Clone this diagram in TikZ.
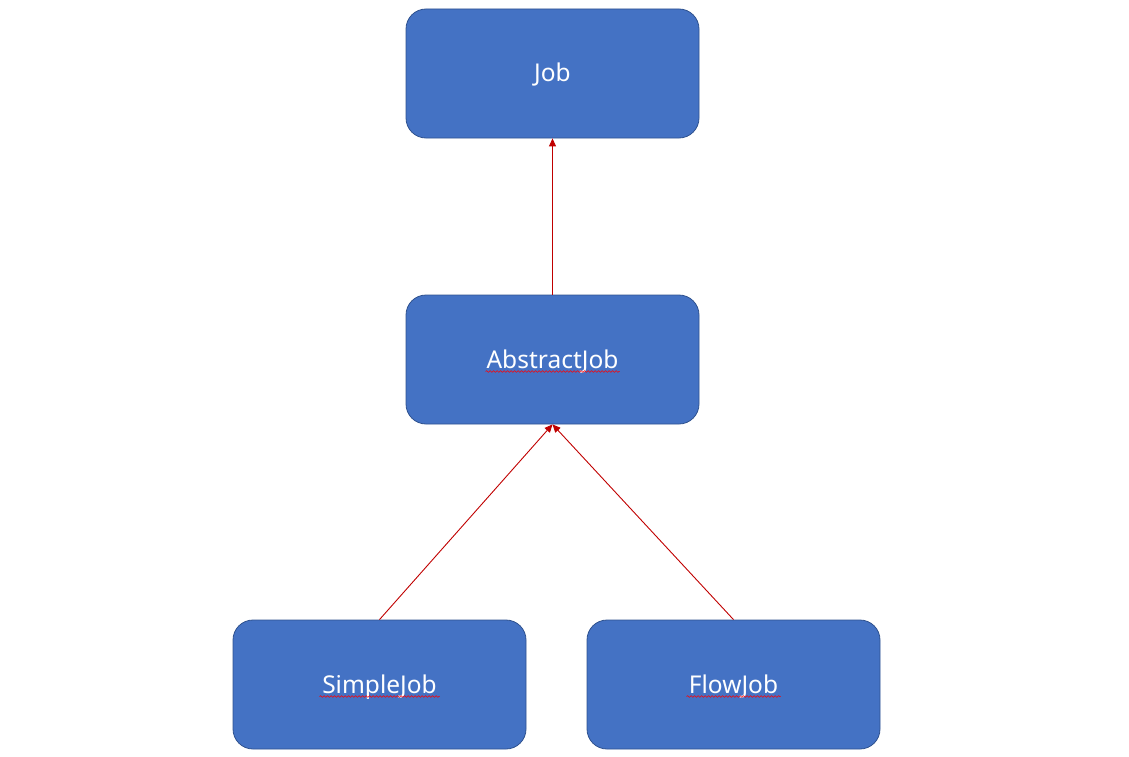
\documentclass[tikz,border=0pt]{standalone}
\usepackage{fontspec}
\setmainfont{Noto Sans}
\usepackage{tikz}
\usetikzlibrary{arrows.meta, decorations.pathmorphing}

\definecolor{boxfill}{HTML}{4472C4}
\definecolor{boxline}{HTML}{2F528F}
\definecolor{arrowred}{HTML}{C00000}

\begin{document}
\begin{tikzpicture}[
		x = 1pt, y = 1pt,
		every node/.style = {draw = boxline, fill = boxfill, line width = 0.8pt,
			rounded corners = 20pt, minimum width = 293pt, minimum height = 129pt,
			inner sep = 0pt, text height = 20pt, text depth = 3pt,
			text = white, font = \fontsize{24.5}{28}\selectfont},
		grow = down,  % parent on top
		level 1/.style = {level distance = 286pt},
		level 2/.style = {level distance = 325pt, sibling distance = 354pt, nodes = {xshift = 4pt}},
		edge from parent/.style = {draw = arrowred, line width = 0.9pt,
			{Triangle[length=8pt, width=7pt]}-},
		edge from parent path = {(\tikzparentnode.south) -- (\tikzchildnode.north)},
		squiggle/.style = {draw = red, line width = 0.6pt,
			decorate, decoration = {snake, amplitude = 0.8pt, segment length = 3.5pt}}
		]
		\useasboundingbox (0,0) rectangle (1129,-757);
		\node (Job) at (552.5,-73.5) {Job}
		child { node (Abstract) {AbstractJob}
			child { node (Simple) {SimpleJob} }
			child { node (Flow) {FlowJob} }
		};
		
		% spell-check marks under the names
		\draw[squiggle] ([shift={(-67,-12)}]Abstract.center) -- ([shift={(67,-12)}]Abstract.center);
		\draw[squiggle] ([shift={(-60,-12)}]Simple.center) -- ([shift={(60,-12)}]Simple.center);
		\draw[squiggle] ([shift={(-47,-12)}]Flow.center) -- ([shift={(47,-12)}]Flow.center);
	\end{tikzpicture}
\end{document}
